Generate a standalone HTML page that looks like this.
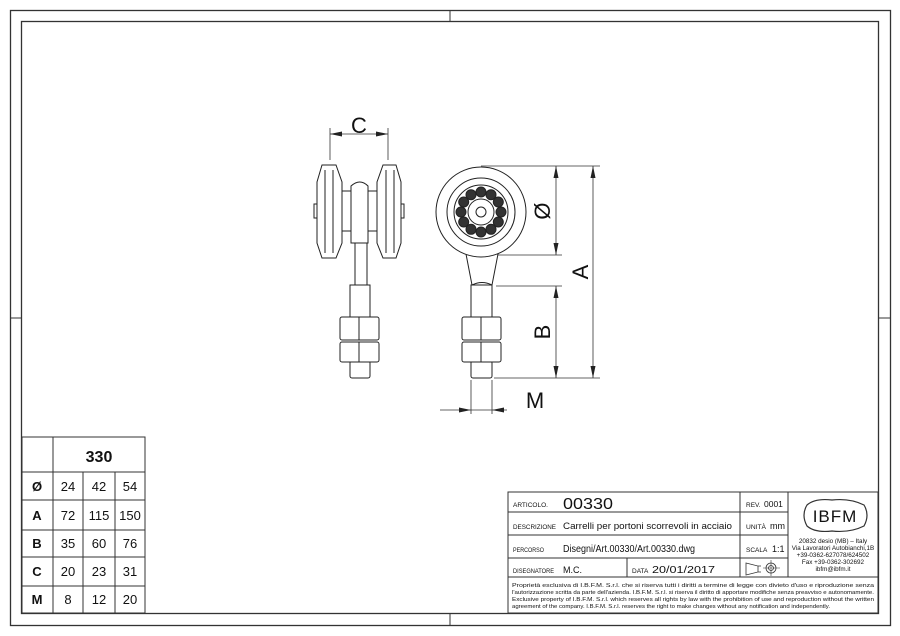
<!DOCTYPE html>
<html><head><meta charset="utf-8"><style>
html,body{margin:0;padding:0;background:#fff}
svg{display:block}
text{font-family:"Liberation Sans",sans-serif;fill:#111}
</style></head><body>
<svg width="900" height="636" viewBox="0 0 900 636" xmlns="http://www.w3.org/2000/svg">
<g fill="none" stroke="#333">
<rect x="10.5" y="10.5" width="880" height="615" stroke-width="1.3"/>
<rect x="21.5" y="21.5" width="857" height="592" stroke-width="1.3"/>
<line x1="450" y1="10" x2="450" y2="22"/><line x1="450" y1="614" x2="450" y2="626"/>
<line x1="10" y1="318" x2="22" y2="318"/><line x1="878" y1="318" x2="890" y2="318"/>
</g>

<!-- left view -->
<g fill="#fff" stroke="#222" stroke-width="1">
<rect x="314" y="204" width="4" height="14"/>
<rect x="400" y="204" width="4" height="14"/>
<rect x="340" y="191" width="39" height="40"/>
<path d="M322,165 L336,165 L342,182 L342,243 L336,258 L322,258 L317,243 L317,182 Z"/>
<line x1="325" y1="170" x2="325" y2="253"/><line x1="333" y1="170" x2="333" y2="253"/>
<path d="M383,165 L396,165 L401,182 L401,243 L396,258 L383,258 L377,243 L377,182 Z"/>
<line x1="386" y1="170" x2="386" y2="253"/><line x1="394" y1="170" x2="394" y2="253"/>
<path d="M351,243 L351,186 Q360,178 368,186 L368,243 Z"/>
<rect x="355" y="243" width="12" height="42"/>
<rect x="350" y="285" width="20" height="33"/>
<rect x="350" y="361" width="20" height="17" rx="2"/>
<rect x="340" y="317" width="39" height="23" rx="2"/><line x1="359" y1="317" x2="359" y2="340"/>
<rect x="340" y="342" width="39" height="20" rx="2"/><line x1="359" y1="342" x2="359" y2="362"/>
</g>

<!-- right view -->
<g fill="#fff" stroke="#222" stroke-width="1">
<path d="M466,254 L472,285 L492,285 L498,254 Z"/>
<path d="M472,285 Q482,280 492,285" fill="none"/>
<circle cx="481" cy="212" r="45"/>
<circle cx="481" cy="212" r="34"/>
<circle cx="481" cy="212" r="27"/>
<g fill="#333">
<circle cx="501" cy="212" r="5"/><circle cx="498.3" cy="222" r="5"/><circle cx="491" cy="229.3" r="5"/>
<circle cx="481" cy="232" r="5"/><circle cx="471" cy="229.3" r="5"/><circle cx="463.7" cy="222" r="5"/>
<circle cx="461" cy="212" r="5"/><circle cx="463.7" cy="202" r="5"/><circle cx="471" cy="194.7" r="5"/>
<circle cx="481" cy="192" r="5"/><circle cx="491" cy="194.7" r="5"/><circle cx="498.3" cy="202" r="5"/>
</g>
<circle cx="481" cy="212" r="13"/>
<circle cx="481" cy="212" r="5"/>
<rect x="471" y="285" width="21" height="33"/>
<rect x="471" y="361" width="21" height="17" rx="2"/>
<rect x="462" y="317" width="39" height="23" rx="2"/><line x1="481" y1="317" x2="481" y2="340"/>
<rect x="462" y="342" width="39" height="20" rx="2"/><line x1="481" y1="342" x2="481" y2="362"/>
</g>

<!-- dimensions -->
<g stroke="#333" stroke-width="0.8" fill="none">
<line x1="330" y1="128" x2="330" y2="160"/><line x1="388" y1="128" x2="388" y2="160"/>
<line x1="330" y1="134" x2="388" y2="134"/>
<line x1="481" y1="166" x2="600" y2="166"/>
<line x1="498" y1="255" x2="562" y2="255"/>
<line x1="496" y1="286" x2="562" y2="286"/>
<line x1="494" y1="378" x2="600" y2="378"/>
<line x1="556" y1="166" x2="556" y2="255"/>
<line x1="593" y1="166" x2="593" y2="378"/>
<line x1="556" y1="286" x2="556" y2="378"/>
<line x1="471" y1="380" x2="471" y2="414"/><line x1="492" y1="380" x2="492" y2="414"/>
<line x1="440" y1="410" x2="507" y2="410"/>
</g>
<g fill="#222">
<path d="M330,134 l12,-2.5 v5z"/><path d="M388,134 l-12,-2.5 v5z"/>
<path d="M556,166 l-2.5,12 h5z"/><path d="M556,255 l-2.5,-12 h5z"/>
<path d="M593,166 l-2.5,12 h5z"/><path d="M593,378 l-2.5,-12 h5z"/>
<path d="M556,286 l-2.5,12 h5z"/><path d="M556,378 l-2.5,-12 h5z"/>
<path d="M471,410 l-12,-2.5 v5z"/><path d="M492,410 l12,-2.5 v5z"/>
</g>
<text x="359" y="133" font-size="22" text-anchor="middle">C</text>
<text x="535" y="408" font-size="22" text-anchor="middle">M</text>
<text transform="translate(550,211) rotate(-90)" font-size="22" text-anchor="middle">Ø</text>
<text transform="translate(588,272) rotate(-90)" font-size="22" text-anchor="middle">A</text>
<text transform="translate(550,332) rotate(-90)" font-size="22" text-anchor="middle">B</text>

<!-- left table -->
<g stroke="#333" stroke-width="1" fill="none">
<rect x="22" y="437" width="123" height="176"/>
<line x1="53" y1="437" x2="53" y2="613"/>
<line x1="83" y1="472" x2="83" y2="613"/><line x1="115" y1="472" x2="115" y2="613"/>
<line x1="22" y1="472" x2="145" y2="472"/><line x1="22" y1="500" x2="145" y2="500"/>
<line x1="22" y1="530" x2="145" y2="530"/><line x1="22" y1="557" x2="145" y2="557"/>
<line x1="22" y1="586" x2="145" y2="586"/>
</g>
<g font-size="13" text-anchor="middle">
<text x="99" y="462" font-size="16" font-weight="bold">330</text>
<text x="37" y="491" font-weight="bold">Ø</text><text x="68" y="491">24</text><text x="99" y="491">42</text><text x="130" y="491">54</text>
<text x="37" y="520" font-weight="bold">A</text><text x="68" y="520">72</text><text x="99" y="520">115</text><text x="130" y="520">150</text>
<text x="37" y="548" font-weight="bold">B</text><text x="68" y="548">35</text><text x="99" y="548">60</text><text x="130" y="548">76</text>
<text x="37" y="576" font-weight="bold">C</text><text x="68" y="576">20</text><text x="99" y="576">23</text><text x="130" y="576">31</text>
<text x="37" y="604" font-weight="bold">M</text><text x="68" y="604">8</text><text x="99" y="604">12</text><text x="130" y="604">20</text>
</g>

<!-- title block -->
<g stroke="#333" stroke-width="1" fill="none">
<rect x="508" y="492" width="370" height="121"/>
<line x1="508" y1="512" x2="788" y2="512"/>
<line x1="508" y1="535" x2="788" y2="535"/>
<line x1="508" y1="558" x2="788" y2="558"/>
<line x1="508" y1="577" x2="878" y2="577"/>
<line x1="740" y1="492" x2="740" y2="577"/>
<line x1="788" y1="492" x2="788" y2="577"/>
<line x1="627" y1="558" x2="627" y2="577"/>
<path d="M807,505 Q815,498 832,500 Q850,498 864,505 Q870,515 864,526 Q850,533 832,531 Q815,533 807,526 Q801,515 807,505 Z" stroke-width="1.2"/>
<path d="M746,563 L758,566 L758,572 L746,575 Z M758,566 h3 M758,572 h3" stroke-width="0.8"/>
<circle cx="771" cy="568" r="5" stroke-width="0.8"/><circle cx="771" cy="568" r="2.5" stroke-width="0.8"/>
<line x1="763" y1="568" x2="780" y2="568" stroke-width="0.6"/><line x1="771" y1="560" x2="771" y2="576" stroke-width="0.6"/>
</g>
<g font-size="6.5">
<text x="513" y="507" textLength="35" lengthAdjust="spacingAndGlyphs">ARTICOLO.</text>
<text x="563" y="509" font-size="16" fill="#444" textLength="50" lengthAdjust="spacingAndGlyphs">00330</text>
<text x="746" y="507">REV.</text><text x="764" y="507" font-size="8.5">0001</text>
<text x="513" y="529" textLength="43" lengthAdjust="spacingAndGlyphs">DESCRIZIONE</text>
<text x="563" y="529" font-size="9.5" textLength="169" lengthAdjust="spacingAndGlyphs">Carrelli per portoni scorrevoli in acciaio</text>
<text x="746" y="529" textLength="20" lengthAdjust="spacingAndGlyphs">UNITÀ</text><text x="770" y="529" font-size="9">mm</text>
<text x="513" y="552" textLength="31" lengthAdjust="spacingAndGlyphs">PERCORSO</text>
<text x="563" y="552" font-size="10" textLength="132" lengthAdjust="spacingAndGlyphs">Disegni/Art.00330/Art.00330.dwg</text>
<text x="746" y="552">SCALA</text><text x="772" y="552" font-size="9">1:1</text>
<text x="513" y="573" textLength="41" lengthAdjust="spacingAndGlyphs">DISEGNATORE</text>
<text x="563" y="573" font-size="9">M.C.</text>
<text x="632" y="573">DATA</text><text x="652" y="573" font-size="10" textLength="63" lengthAdjust="spacingAndGlyphs">20/01/2017</text>
<text x="835" y="522" font-size="17" text-anchor="middle" font-family="Liberation Serif" letter-spacing="1">IBFM</text>
<g font-size="6.3" text-anchor="middle">
<text x="833" y="543">20832 desio (MB) – Italy</text>
<text x="833" y="550">Via Lavoratori Autobianchi,1B</text>
<text x="833" y="557">+39-0362-627078/624502</text>
<text x="833" y="564">Fax +39-0362-302692</text>
<text x="833" y="571">ibfm@ibfm.it</text>
</g>
<g font-size="5.6">
<text x="512" y="587" textLength="362" lengthAdjust="spacingAndGlyphs">Proprietà esclusiva di I.B.F.M. S.r.l. che si riserva tutti i diritti a termine di legge con divieto d'uso e riproduzione senza</text>
<text x="512" y="594" textLength="362" lengthAdjust="spacingAndGlyphs">l'autorizzazione scritta da parte dell'azienda. I.B.F.M. S.r.l. si riserva il diritto di apportare modifiche senza preavviso e autonomamente.</text>
<text x="512" y="601" textLength="362" lengthAdjust="spacingAndGlyphs">Exclusive property of I.B.F.M. S.r.l. which reserves all rights by law with the prohibition of use and reproduction without the written</text>
<text x="512" y="608" textLength="318" lengthAdjust="spacingAndGlyphs">agreement of the company. I.B.F.M. S.r.l. reserves the right to make changes without any notification and independently.</text>
</g>
</g>
</svg>
</body></html>
